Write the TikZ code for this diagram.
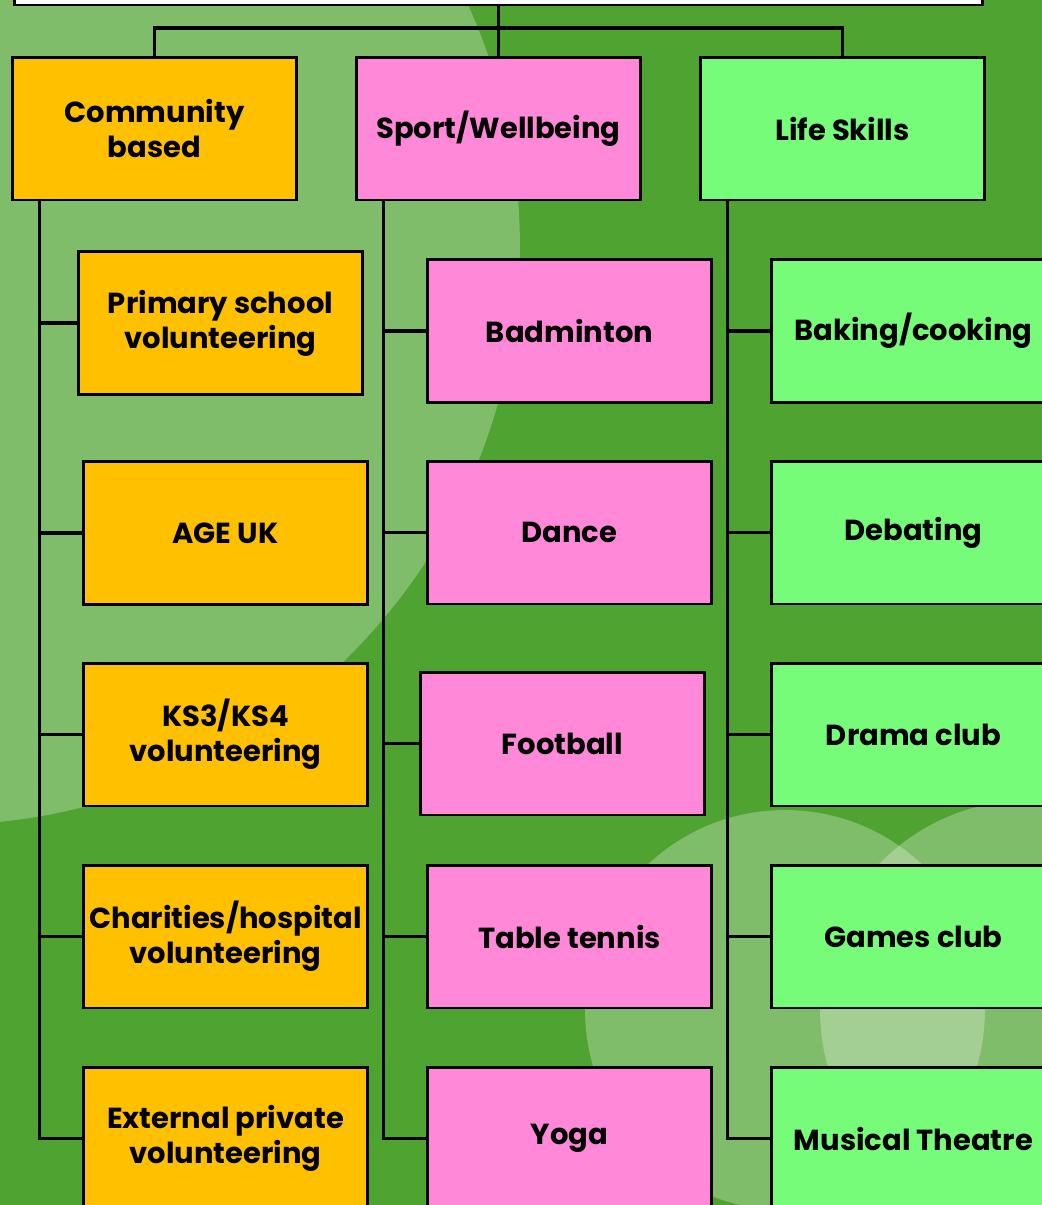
\documentclass[tikz,border=0pt]{standalone}
\usepackage{fontspec}
\setmainfont{Poppins}
\usepackage{tikz}
\usetikzlibrary{positioning}

\definecolor{bggreen}{HTML}{4FA431}
\definecolor{commorange}{HTML}{FFC000}
\definecolor{sportpink}{HTML}{FF88D8}
\definecolor{lifegreen}{HTML}{77FC7A}

\begin{document}
\begin{tikzpicture}[x=0.02cm, y=-0.02cm,
  box/.style = {draw, line width=1.7pt, minimum width=5.7cm, minimum height=2.86cm,
                align=center, inner sep=1pt, font=\fontsize{16.5}{20}\selectfont\bfseries},
  comm/.style = {box, fill=commorange},
  sport/.style = {box, fill=sportpink},
  life/.style = {box, fill=lifegreen},
  link/.style = {line width=1.8pt}]
\useasboundingbox (0,0) rectangle (1042,1205);
\clip (0,0) rectangle (1042,1205);
\fill[bggreen] (0,0) rectangle (1042,1205);
\fill[white, opacity=0.28] (-60,245) circle [radius=11.6cm];
\fill[white, opacity=0.28] (785,1010) circle [radius=4cm];
\fill[white, opacity=0.28] (1030,1010) circle [radius=4.2cm];

% top box and headings
\node[draw, fill=white, line width=1.7pt, minimum width=19.38cm, minimum height=2cm] (top) at (498.5,-45) {};
\node[comm] (cb) at (154.5,128.5) {Community\\based};
\node[sport] (sw) at (498.5,128.5) {Sport/Wellbeing};
\node[life] (ls) at (842.5,128.5) {Life Skills};

\draw[link] (top.south) -- (sw.north);
\draw[link] (cb.north) |- (top.south |- 0,28) -| (ls.north);

% community column
\node[comm] (prim) at (220.5,323) {Primary school\\volunteering};
\node[comm] (age) at (225.5,533) {AGE UK};
\node[comm] (ks) at (225.5,734.5) {KS3/KS4\\volunteering};
\node[comm] (char) at (225.5,936.5) {Charities/hospital\\volunteering};
\node[comm] (ext) at (225.5,1138.5) {External private\\volunteering};

% sport column
\node[sport] (badm) at (569.5,331) {Badminton};
\node[sport] (dance) at (569.5,532.5) {Dance};
\node[sport] (foot) at (562.5,743.5) {Football};
\node[sport] (tt) at (569.5,936.5) {Table tennis};
\node[sport] (yoga) at (569.5,1138.5) {Yoga};

% life skills column
\node[life] (bake) at (913.5,331) {Baking/cooking};
\node[life] (deb) at (913.5,532.5) {Debating};
\node[life] (drama) at (913.5,734.5) {Drama club};
\node[life] (games) at (913.5,936.5) {Games club};
\node[life] (mus) at (913.5,1138.5) {Musical Theatre};

\coordinate (cbs) at ([xshift=0.58cm]cb.south west);
\coordinate (sws) at ([xshift=0.58cm]sw.south west);
\coordinate (lss) at ([xshift=0.58cm]ls.south west);

\draw[link] (cbs) |- (ext.west);
\draw[link] (sws) |- (yoga.west);
\draw[link] (lss) |- (mus.west);

\draw[link] (prim.west) -- (prim.west -| cbs);
\draw[link] (age.west) -- (age.west -| cbs);
\draw[link] (ks.west) -- (ks.west -| cbs);
\draw[link] (char.west) -- (char.west -| cbs);
\draw[link] (badm.west) -- (badm.west -| sws);
\draw[link] (dance.west) -- (dance.west -| sws);
\draw[link] (foot.west) -- (foot.west -| sws);
\draw[link] (tt.west) -- (tt.west -| sws);
\draw[link] (bake.west) -- (bake.west -| lss);
\draw[link] (deb.west) -- (deb.west -| lss);
\draw[link] (drama.west) -- (drama.west -| lss);
\draw[link] (games.west) -- (games.west -| lss);
\end{tikzpicture}
\end{document}
